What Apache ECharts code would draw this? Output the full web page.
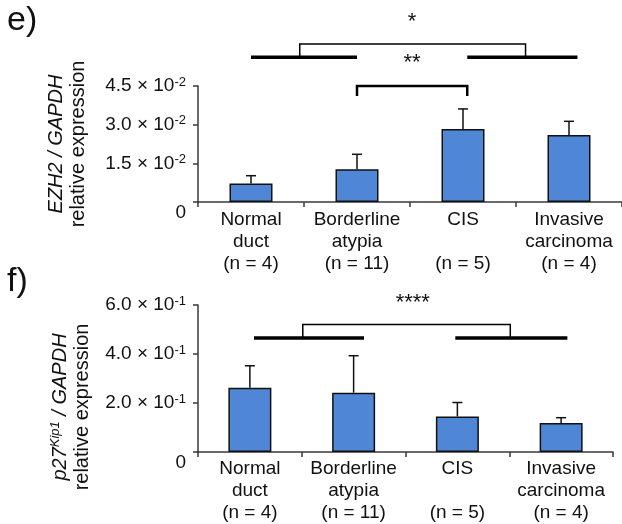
<!DOCTYPE html>
<html><head><meta charset="utf-8">
<script src="https://cdn.jsdelivr.net/npm/echarts@6/dist/echarts.min.js"></script>
<style>html,body{margin:0;padding:0;background:#fff}#c{width:622px;height:524px}</style>
</head><body><div id="c"></div>
<script>
// ---------- data ----------
const categories = ['Normal\nduct\n(n = 4)', 'Borderline\natypia\n(n = 11)', 'CIS\n\n(n = 5)', 'Invasive\ncarcinoma\n(n = 4)'];
const ezh2Mean = [0.0072, 0.0127, 0.0283, 0.0260];
const ezh2Err  = [0.0030, 0.0058, 0.0078, 0.0053];
const p27Mean  = [0.262, 0.242, 0.145, 0.118];
const p27Err   = [0.090, 0.151, 0.057, 0.022];
const ezh2Ticks = [['0', ''], ['1.5', '-2'], ['3.0', '-2'], ['4.5', '-2']];
const p27Ticks  = [['0', ''], ['2.0', '-1'], ['4.0', '-1'], ['6.0', '-1']];
// significance annotations (x in category units, y in data units)
const ezh2GroupBars = [[0, 1, 0.0562], [2.04, 3.08, 0.0562]];
const ezh2Brackets  = [[0.46, 2.59, 0.0613, 0.0562], [1.0, 2.04, 0.0450, 0.0411]];
const ezh2Stars     = [[1.52, 0.0700, '*'], [1.52, 0.0540, '**']];
const p27GroupBars  = [[0.04, 1.10, 0.465], [1.98, 3.06, 0.465]];
const p27Brackets   = [[0.51, 2.51, 0.520, 0.465]];
const p27Stars      = [[1.57, 0.610, '****']];

// ---------- styles ----------
const FONT = 'Liberation Sans, Arial, Helvetica, sans-serif';
const TXT = '#111';
const AX = '#3a3a3a';
const BAR = '#4F86D5';

const chart = echarts.init(document.getElementById('c'), null, {renderer: 'canvas'});

function xAt(api, f) {
  const p0 = api.coord([0, 0]);
  const band = api.size([1, 0])[0];
  return p0[0] + f * band;
}

function tickFormatter(ticks, interval) {
  return function (v) {
    const t = ticks[Math.round(v / interval)];
    if (!t) return '';
    return t[1] ? '{m|' + t[0] + ' × 10}{s|' + t[1] + '}' : '{z|' + t[0] + '}';
  };
}
const tickRich = {
  m: {fontSize: 19, fontFamily: FONT, color: TXT, lineHeight: 21},
  s: {fontSize: 13, fontFamily: FONT, color: TXT, verticalAlign: 'top', lineHeight: 13},
  z: {fontSize: 19, fontFamily: FONT, color: TXT, padding: [22, 0, 0, 0]}
};

function xAxisCfg(gi, margin) {
  return {
    type: 'category', gridIndex: gi, data: categories,
    axisLine: {lineStyle: {color: AX, width: 1.5}},
    axisTick: {show: true, length: 5, lineStyle: {color: AX, width: 1.5}},
    axisLabel: {interval: 0, margin: margin, fontSize: 19, lineHeight: 22, fontFamily: FONT, color: TXT}
  };
}
function yAxisCfg(gi, max, interval, ticks) {
  return {
    type: 'value', gridIndex: gi, min: 0, max: max, interval: interval,
    splitLine: {show: false},
    axisLine: {show: true, lineStyle: {color: AX, width: 1.5}},
    axisTick: {show: true, length: 5, lineStyle: {color: AX, width: 1.5}},
    axisLabel: {margin: 12, formatter: tickFormatter(ticks, interval), rich: tickRich}
  };
}

function barSeries(gi, data) {
  return {
    type: 'bar', xAxisIndex: gi, yAxisIndex: gi, data: data, barWidth: 43,
    itemStyle: {color: BAR, borderColor: '#111', borderWidth: 1.5},
    silent: true, animation: false, z: 2
  };
}
function errSeries(gi, mean, err) {
  return {
    type: 'custom', xAxisIndex: gi, yAxisIndex: gi, animation: false, z: 3,
    data: mean.map((m, i) => [i, m, m + err[i]]),
    renderItem: function (params, api) {
      const b = api.coord([api.value(0), api.value(1)]);
      const t = api.coord([api.value(0), api.value(2)]);
      const st = {stroke: '#111', lineWidth: 1.5};
      return {type: 'group', children: [
        {type: 'line', shape: {x1: b[0], y1: b[1], x2: t[0], y2: t[1]}, style: st},
        {type: 'line', shape: {x1: t[0] - 5, y1: t[1], x2: t[0] + 5, y2: t[1]}, style: st}
      ]};
    }
  };
}
function groupBarSeries(gi, arr) {
  return {
    type: 'custom', xAxisIndex: gi, yAxisIndex: gi, animation: false, clip: false, z: 4,
    data: arr.map((d) => [0, d[2]]),
    renderItem: function (params, api) {
      const d = arr[params.dataIndex];
      const y = api.coord([0, d[2]])[1];
      return {type: 'line', shape: {x1: xAt(api, d[0]), y1: y, x2: xAt(api, d[1]), y2: y},
              style: {stroke: '#000', lineWidth: 3.5}};
    }
  };
}
function bracketSeries(gi, arr, widths) {
  return {
    type: 'custom', xAxisIndex: gi, yAxisIndex: gi, animation: false, clip: false, z: 4,
    data: arr.map((d) => [0, d[2]]),
    renderItem: function (params, api) {
      const d = arr[params.dataIndex];
      const x1 = xAt(api, d[0]), x2 = xAt(api, d[1]);
      const yt = api.coord([0, d[2]])[1], yf = api.coord([0, d[3]])[1];
      return {type: 'polyline', shape: {points: [[x1, yf], [x1, yt], [x2, yt], [x2, yf]]},
              style: {stroke: '#000', fill: null, lineWidth: widths[params.dataIndex]}};
    }
  };
}
function starSeries(gi, arr) {
  return {
    type: 'custom', xAxisIndex: gi, yAxisIndex: gi, animation: false, clip: false, z: 4,
    data: arr.map((d) => [0, d[1]]),
    renderItem: function (params, api) {
      const d = arr[params.dataIndex];
      const y = api.coord([0, d[1]])[1];
      return {type: 'text', x: xAt(api, d[0]), y: y,
              style: {text: d[2], fontSize: 22, fontFamily: FONT, fill: TXT, align: 'center', verticalAlign: 'middle'}};
    }
  };
}

const titleRich = {
  i: {fontSize: 20, fontStyle: 'italic', fontFamily: FONT, fill: TXT, lineHeight: 22},
  n: {fontSize: 20, fontFamily: FONT, fill: TXT, lineHeight: 22},
  sup: {fontSize: 13, fontStyle: 'italic', fontFamily: FONT, fill: TXT, verticalAlign: 'top', lineHeight: 13}
};

const option = {
  backgroundColor: '#fff',
  animation: false,
  grid: [
    {left: 198, top: 86, width: 424, height: 116},
    {left: 198, top: 305, width: 415, height: 149}
  ],
  xAxis: [xAxisCfg(0, 7), xAxisCfg(1, 6)],
  yAxis: [yAxisCfg(0, 0.045, 0.015, ezh2Ticks), yAxisCfg(1, 0.6, 0.2, p27Ticks)],
  series: [
    barSeries(0, ezh2Mean), errSeries(0, ezh2Mean, ezh2Err),
    groupBarSeries(0, ezh2GroupBars), bracketSeries(0, ezh2Brackets, [1.5, 2.5]), starSeries(0, ezh2Stars),
    barSeries(1, p27Mean), errSeries(1, p27Mean, p27Err),
    groupBarSeries(1, p27GroupBars), bracketSeries(1, p27Brackets, [1.5]), starSeries(1, p27Stars)
  ],
  graphic: [
    {type: 'text', left: 7, top: 4, style: {text: 'e)', fontSize: 34, fontFamily: FONT, fill: TXT}},
    {type: 'text', left: 7, top: 265, style: {text: 'f)', fontSize: 34, fontFamily: FONT, fill: TXT}},
    {type: 'text', x: 67, y: 144, rotation: Math.PI / 2,
     style: {text: '{i|EZH2 / GAPDH}\n{n|relative expression}', align: 'center', verticalAlign: 'middle', rich: titleRich}},
    {type: 'text', x: 71, y: 407, rotation: Math.PI / 2,
     style: {text: '{i|p27}{sup|Kip1}{i| / GAPDH}\n{n|relative expression}', align: 'center', verticalAlign: 'middle', rich: titleRich}}
  ]
};
chart.setOption(option);
</script>
</body></html>
